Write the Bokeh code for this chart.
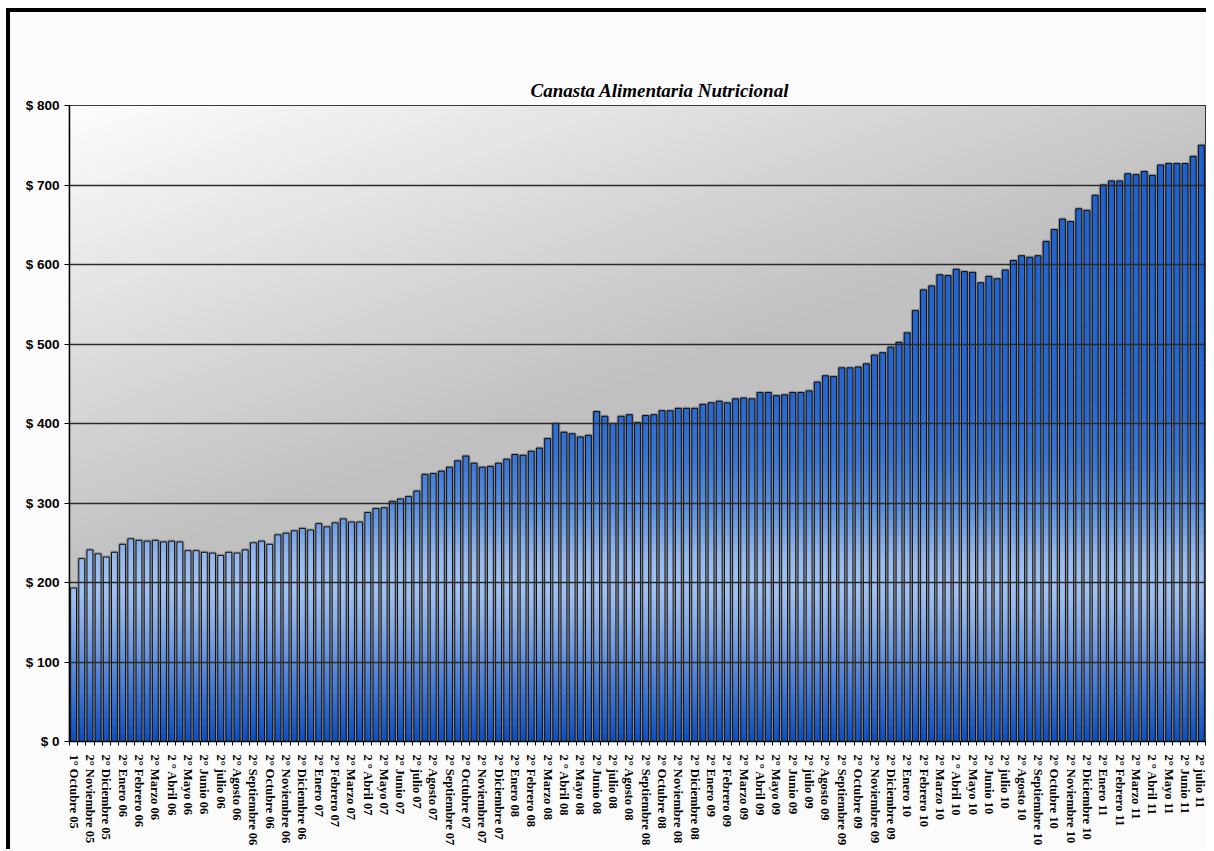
import math
import numpy as np
from bokeh.plotting import figure
from bokeh.models import Range1d, FixedTicker, PrintfTickFormatter, Title
from bokeh.embed import file_html
from bokeh.resources import INLINE

# ---------------- data ----------------
values = [193, 230, 241, 236, 232, 238, 248, 255, 253, 252, 253, 251, 252, 251, 240, 240, 238, 237, 234, 238, 237, 241,
          250, 252, 248, 260, 262, 265, 268, 266, 274, 270, 275, 280, 276, 276, 288, 293, 294, 302, 305, 308, 315, 336, 337,
          340, 345, 353, 359, 350, 345, 346, 350, 355, 361, 360, 365, 369, 381, 400, 389, 387, 383, 385, 415, 409, 400,
          409, 411, 401, 410, 411, 416, 416, 419, 419, 419, 424, 426, 428, 426, 431, 432, 431, 439, 439, 435, 436, 439, 439,
          441, 452, 460, 459, 470, 470, 471, 475, 486, 489, 496, 502, 514, 542, 568, 573, 587, 586, 594, 591, 590, 577, 585, 582,
          593, 605, 611, 609, 611, 629, 644, 657, 654, 670, 668, 687, 700, 705, 705, 714, 713, 717, 712, 725, 727, 727, 727, 736, 750]

tick_labels = [
    "1° Octubre 05", "2° Noviembre 05", "2° Diciembre 05",
    "2° Enero 06", "2° Febrero 06", "2° Marzo 06", "2 ° Abril 06", "2° Mayo 06", "2° Junio 06",
    "2° julio 06", "2° Agosto 06", "2° Septiembre 06", "2° Octubre 06", "2° Noviembre 06", "2° Diciembre 06",
    "2° Enero 07", "2° Febrero 07", "2° Marzo 07", "2 ° Abril 07", "2° Mayo 07", "2° Junio 07",
    "2° julio 07", "2° Agosto 07", "2° Septiembre 07", "2° Octubre 07", "2° Noviembre 07", "2° Diciembre 07",
    "2° Enero 08", "2° Febrero 08", "2° Marzo 08", "2 ° Abril 08", "2° Mayo 08", "2° Junio 08",
    "2° julio 08", "2° Agosto 08", "2° Septiembre 08", "2° Octubre 08", "2° Noviembre 08", "2° Diciembre 08",
    "2° Enero 09", "2° Febrero 09", "2° Marzo 09", "2 ° Abril 09", "2° Mayo 09", "2° Junio 09",
    "2° julio 09", "2° Agosto 09", "2° Septiembre 09", "2° Octubre 09", "2° Noviembre 09", "2° Diciembre 09",
    "2° Enero 10", "2° Febrero 10", "2° Marzo 10", "2 ° Abril 10", "2° Mayo 10", "2° Junio 10",
    "2° julio 10", "2° Agosto 10", "2° Septiembre 10", "2° Octubre 10", "2° Noviembre 10", "2° Diciembre 10",
    "2° Enero 11", "2° Febrero 11", "2° Marzo 11", "2 ° Abril 11", "2° Mayo 11", "2° Junio 11", "2° julio 11",
]

y_ticks = [0, 100, 200, 300, 400, 500, 600, 700, 800]
chart_title = "Canasta Alimentaria Nutricional"

# ---------------- figure ----------------
n = len(values)
xs = list(range(n))
label_pos = list(range(0, n, 2))

p = figure(width=1200, height=841, output_backend="svg", toolbar_location=None,
           x_range=Range1d(-0.5, n - 0.5), y_range=Range1d(0, 800),
           min_border_left=63, min_border_right=1, min_border_top=97, min_border_bottom=108,
           title=".")
p.border_fill_color = None
p.background_fill_color = None
p.styles = {"margin-top": "8px", "margin-left": "6px",
            "background-color": "#fbfbfb", "box-shadow": "inset 4px 4px 0 0 #000000"}

# background gradient of plot area (style only)
W, H = 568, 318
cols = np.arange(W)[None, :] / (W - 1) * 1136.0
rows_from_top = (H - 1 - np.arange(H))[:, None] / (H - 1) * 636.0
t = np.clip(cols / 1350.0 + rows_from_top / 480.0, 0, 1)
g = (253 - (253 - 192) * t).astype(np.uint8)
img = np.empty((H, W), dtype=np.uint32)
view = img.view(dtype=np.uint8).reshape((H, W, 4))
view[:, :, 0] = g
view[:, :, 1] = g
view[:, :, 2] = g
view[:, :, 3] = 255
p.image_rgba(image=[img], x=-0.5, y=0, dw=n, dh=800, level="image")

# bar vertical colour profile (style)
prof_v = [0, 60, 140, 190, 230, 290, 360, 430, 800]
prof_c = [(12, 78, 190), (62, 116, 210), (128, 167, 230), (162, 194, 242), (152, 186, 238),
          (92, 146, 222), (56, 116, 212), (40, 104, 208), (30, 96, 204)]
pr = np.array(prof_c, dtype=float)

def col_at(v):
    r = np.interp(v, prof_v, pr[:, 0])
    gg = np.interp(v, prof_v, pr[:, 1])
    b = np.interp(v, prof_v, pr[:, 2])
    return "#%02x%02x%02x" % (int(r), int(gg), int(b))

seg_x, seg_b, seg_t, seg_c = [], [], [], []
band = 10
for i, v in enumerate(values):
    lo = 0
    while lo < v:
        hi = min(lo + band, v)
        seg_x.append(i)
        seg_b.append(lo)
        seg_t.append(hi)
        seg_c.append(col_at((lo + hi) / 2))
        lo = hi

bw = 0.72
p.vbar(x=xs, top=values, width=bw, fill_color=None, line_color="#808080", line_width=3.2, line_alpha=0.75)
p.vbar(x=seg_x, bottom=seg_b, top=seg_t, width=bw, fill_color=seg_c, line_color=seg_c, line_width=0.6)
p.vbar(x=xs, top=values, width=bw, fill_color=None, line_color="#111111", line_width=1)

# grid
p.xgrid.grid_line_color = None
p.ygrid.ticker = FixedTicker(ticks=y_ticks)
p.ygrid.grid_line_color = "#2a2a2a"
p.ygrid.grid_line_width = 1.5
p.ygrid.level = "overlay"
p.outline_line_color = "#000000"
p.outline_line_width = 1.2

# x axis
p.xaxis.ticker = FixedTicker(ticks=label_pos, minor_ticks=[i - 0.5 for i in range(n + 1)])
p.xaxis.major_label_overrides = {pos: lab for pos, lab in zip(label_pos, tick_labels)}
p.xaxis.major_label_orientation = -math.pi / 2
p.xaxis.major_tick_line_color = None
p.xaxis.major_tick_out = 4
p.xaxis.minor_tick_line_color = "#000000"
p.xaxis.minor_tick_out = 4
p.xaxis.minor_tick_in = 0
p.xaxis.axis_line_color = "#000000"
p.xaxis.axis_line_width = 1.5
p.xaxis.major_label_text_font = "Liberation Serif"
p.xaxis.major_label_text_font_style = "bold"
p.xaxis.major_label_text_font_size = "12.5px"
p.xaxis.major_label_text_color = "#000000"
p.xaxis.major_label_standoff = 9

# y axis
p.yaxis.ticker = FixedTicker(ticks=y_ticks)
p.yaxis.formatter = PrintfTickFormatter(format="$ %d")
p.yaxis.minor_tick_line_color = None
p.yaxis.major_tick_out = 5
p.yaxis.major_tick_in = 0
p.yaxis.major_tick_line_color = "#000000"
p.yaxis.axis_line_color = "#000000"
p.yaxis.axis_line_width = 1.5
p.yaxis.major_label_text_font = "Liberation Sans"
p.yaxis.major_label_text_font_style = "bold"
p.yaxis.major_label_text_font_size = "13.5px"
p.yaxis.major_label_text_color = "#000000"
p.yaxis.major_label_standoff = 5

# built-in title acts as an (effectively invisible) spacer next to the frame
p.title.text_font_size = "1px"
p.title.text_color = "#fbfbfb"
p.title.standoff = 43

# real title, placed outside the spacer
real_title = Title(text=chart_title, text_font="Liberation Serif", text_font_style="bold italic",
                   text_font_size="19px", align="left", offset=461, standoff=10, text_color="#000000")
p.add_layout(real_title, "above")

open("out.html", "w").write(file_html(p, INLINE))
